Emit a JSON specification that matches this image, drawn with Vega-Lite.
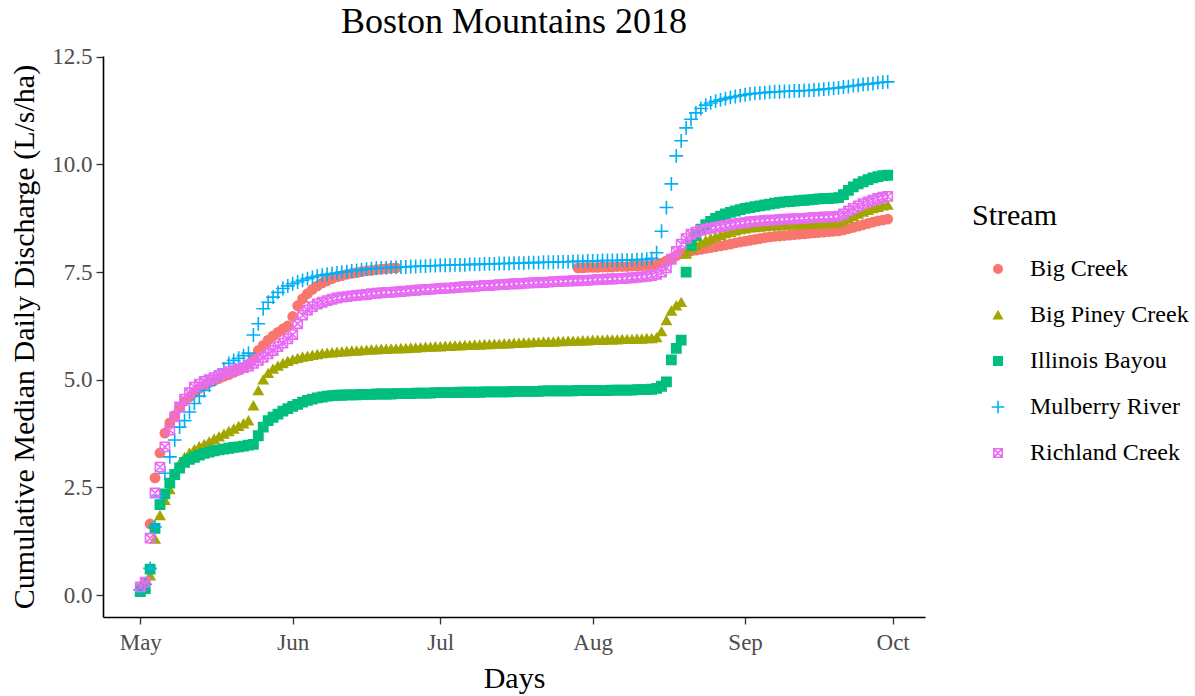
{
"$schema":"https://vega.github.io/schema/vega-lite/v6.json",
"width":822,"height":561,
"autosize":{"type":"none"},
"padding":{"left":103,"top":56,"right":270,"bottom":79},
"background":"white",
"config":{"view":{"stroke":null},"font":"Liberation Serif"},
"title":{"text":"Boston Mountains 2018","font":"Liberation Serif","fontSize":36,"fontWeight":"normal","color":"black","anchor":"middle","offset":5},
"datasets":{
"names":[{"key":"BC","Stream":"Big Creek"},{"key":"BP","Stream":"Big Piney Creek"},{"key":"IB","Stream":"Illinois Bayou"},{"key":"MR","Stream":"Mulberry River"},{"key":"RC","Stream":"Richland Creek"}],
"flows":[
{"Day":"2018-05-01","BC":0.15,"BP":0.1,"IB":0.08,"MR":0.12,"RC":0.19},
{"Day":"2018-05-02","BC":0.3,"BP":0.2,"IB":0.15,"MR":0.25,"RC":0.3},
{"Day":"2018-05-03","BC":1.65,"BP":0.45,"IB":0.6,"MR":0.62,"RC":1.32},
{"Day":"2018-05-04","BC":2.72,"BP":1.3,"IB":1.55,"MR":1.58,"RC":2.37},
{"Day":"2018-05-05","BC":3.3,"BP":1.85,"IB":2.1,"MR":2.3,"RC":2.97},
{"Day":"2018-05-06","BC":3.76,"BP":2.2,"IB":2.35,"MR":2.83,"RC":3.44},
{"Day":"2018-05-07","BC":4.0,"BP":2.45,"IB":2.6,"MR":3.21,"RC":3.83},
{"Day":"2018-05-08","BC":4.17,"BP":2.8,"IB":2.8,"MR":3.6,"RC":4.14},
{"Day":"2018-05-09","BC":4.35,"BP":3.05,"IB":2.95,"MR":3.9,"RC":4.37},
{"Day":"2018-05-10","BC":4.5,"BP":3.2,"IB":3.08,"MR":4.05,"RC":4.55},
{"Day":"2018-05-11","BC":4.6,"BP":3.3,"IB":3.15,"MR":4.25,"RC":4.7},
{"Day":"2018-05-12","BC":4.7,"BP":3.38,"IB":3.2,"MR":4.45,"RC":4.83},
{"Day":"2018-05-13","BC":4.8,"BP":3.45,"IB":3.25,"MR":4.62,"RC":4.9},
{"Day":"2018-05-14","BC":4.87,"BP":3.5,"IB":3.29,"MR":4.75,"RC":4.96},
{"Day":"2018-05-15","BC":4.93,"BP":3.56,"IB":3.32,"MR":4.88,"RC":5.0},
{"Day":"2018-05-16","BC":4.98,"BP":3.62,"IB":3.35,"MR":5.0,"RC":5.05},
{"Day":"2018-05-17","BC":5.03,"BP":3.68,"IB":3.37,"MR":5.1,"RC":5.1},
{"Day":"2018-05-18","BC":5.08,"BP":3.74,"IB":3.39,"MR":5.25,"RC":5.15},
{"Day":"2018-05-19","BC":5.12,"BP":3.8,"IB":3.41,"MR":5.38,"RC":5.19},
{"Day":"2018-05-20","BC":5.17,"BP":3.86,"IB":3.43,"MR":5.45,"RC":5.22},
{"Day":"2018-05-21","BC":5.22,"BP":3.92,"IB":3.44,"MR":5.5,"RC":5.25},
{"Day":"2018-05-22","BC":5.28,"BP":3.98,"IB":3.46,"MR":5.56,"RC":5.28},
{"Day":"2018-05-23","BC":5.36,"BP":4.05,"IB":3.48,"MR":5.62,"RC":5.32},
{"Day":"2018-05-24","BC":5.5,"BP":4.4,"IB":3.5,"MR":6.04,"RC":5.38},
{"Day":"2018-05-25","BC":5.68,"BP":4.75,"IB":3.7,"MR":6.3,"RC":5.45},
{"Day":"2018-05-26","BC":5.8,"BP":5.0,"IB":3.9,"MR":6.65,"RC":5.52},
{"Day":"2018-05-27","BC":5.92,"BP":5.15,"IB":4.05,"MR":6.8,"RC":5.6},
{"Day":"2018-05-28","BC":6.02,"BP":5.25,"IB":4.13,"MR":6.92,"RC":5.68},
{"Day":"2018-05-29","BC":6.1,"BP":5.32,"IB":4.2,"MR":7.03,"RC":5.77},
{"Day":"2018-05-30","BC":6.18,"BP":5.38,"IB":4.27,"MR":7.12,"RC":5.85},
{"Day":"2018-05-31","BC":6.25,"BP":5.43,"IB":4.33,"MR":7.18,"RC":5.95},
{"Day":"2018-06-01","BC":6.47,"BP":5.47,"IB":4.38,"MR":7.23,"RC":6.05},
{"Day":"2018-06-02","BC":6.72,"BP":5.5,"IB":4.43,"MR":7.27,"RC":6.3},
{"Day":"2018-06-03","BC":6.88,"BP":5.53,"IB":4.48,"MR":7.31,"RC":6.5},
{"Day":"2018-06-04","BC":7.0,"BP":5.55,"IB":4.52,"MR":7.35,"RC":6.62},
{"Day":"2018-06-05","BC":7.1,"BP":5.57,"IB":4.55,"MR":7.38,"RC":6.7},
{"Day":"2018-06-06","BC":7.18,"BP":5.59,"IB":4.58,"MR":7.41,"RC":6.76},
{"Day":"2018-06-07","BC":7.25,"BP":5.61,"IB":4.6,"MR":7.43,"RC":6.8},
{"Day":"2018-06-08","BC":7.3,"BP":5.62,"IB":4.62,"MR":7.45,"RC":6.84},
{"Day":"2018-06-09","BC":7.35,"BP":5.63,"IB":4.63,"MR":7.47,"RC":6.87},
{"Day":"2018-06-10","BC":7.39,"BP":5.64,"IB":4.64,"MR":7.48,"RC":6.9},
{"Day":"2018-06-11","BC":7.42,"BP":5.65,"IB":4.64,"MR":7.5,"RC":6.92},
{"Day":"2018-06-12","BC":7.45,"BP":5.66,"IB":4.65,"MR":7.51,"RC":6.93},
{"Day":"2018-06-13","BC":7.47,"BP":5.67,"IB":4.65,"MR":7.53,"RC":6.95},
{"Day":"2018-06-14","BC":7.49,"BP":5.67,"IB":4.65,"MR":7.54,"RC":6.96},
{"Day":"2018-06-15","BC":7.51,"BP":5.68,"IB":4.66,"MR":7.55,"RC":6.97},
{"Day":"2018-06-16","BC":7.53,"BP":5.69,"IB":4.66,"MR":7.57,"RC":6.98},
{"Day":"2018-06-17","BC":7.54,"BP":5.7,"IB":4.66,"MR":7.58,"RC":7.0},
{"Day":"2018-06-18","BC":7.56,"BP":5.7,"IB":4.67,"MR":7.59,"RC":7.01},
{"Day":"2018-06-19","BC":7.57,"BP":5.71,"IB":4.67,"MR":7.6,"RC":7.02},
{"Day":"2018-06-20","BC":7.58,"BP":5.71,"IB":4.67,"MR":7.6,"RC":7.03},
{"Day":"2018-06-21","BC":7.59,"BP":5.72,"IB":4.67,"MR":7.61,"RC":7.03},
{"Day":"2018-06-22","BC":7.6,"BP":5.72,"IB":4.68,"MR":7.61,"RC":7.04},
{"Day":"2018-06-23","BP":5.73,"IB":4.68,"MR":7.62,"RC":7.05},
{"Day":"2018-06-24","BP":5.73,"IB":4.68,"MR":7.62,"RC":7.06},
{"Day":"2018-06-25","BP":5.74,"IB":4.68,"MR":7.63,"RC":7.07},
{"Day":"2018-06-26","BP":5.74,"IB":4.69,"MR":7.63,"RC":7.08},
{"Day":"2018-06-27","BP":5.75,"IB":4.69,"MR":7.64,"RC":7.09},
{"Day":"2018-06-28","BP":5.76,"IB":4.69,"MR":7.64,"RC":7.1},
{"Day":"2018-06-29","BP":5.76,"IB":4.69,"MR":7.65,"RC":7.1},
{"Day":"2018-06-30","BP":5.77,"IB":4.7,"MR":7.65,"RC":7.11},
{"Day":"2018-07-01","BP":5.77,"IB":4.7,"MR":7.66,"RC":7.12},
{"Day":"2018-07-02","BP":5.78,"IB":4.7,"MR":7.66,"RC":7.13},
{"Day":"2018-07-03","BP":5.78,"IB":4.7,"MR":7.66,"RC":7.13},
{"Day":"2018-07-04","BP":5.79,"IB":4.7,"MR":7.67,"RC":7.14},
{"Day":"2018-07-05","BP":5.79,"IB":4.71,"MR":7.67,"RC":7.15},
{"Day":"2018-07-06","BP":5.8,"IB":4.71,"MR":7.67,"RC":7.16},
{"Day":"2018-07-07","BP":5.8,"IB":4.71,"MR":7.68,"RC":7.16},
{"Day":"2018-07-08","BP":5.81,"IB":4.71,"MR":7.68,"RC":7.17},
{"Day":"2018-07-09","BP":5.81,"IB":4.71,"MR":7.68,"RC":7.18},
{"Day":"2018-07-10","BP":5.82,"IB":4.72,"MR":7.69,"RC":7.19},
{"Day":"2018-07-11","BP":5.82,"IB":4.72,"MR":7.69,"RC":7.19},
{"Day":"2018-07-12","BP":5.83,"IB":4.72,"MR":7.69,"RC":7.2},
{"Day":"2018-07-13","BP":5.83,"IB":4.72,"MR":7.7,"RC":7.21},
{"Day":"2018-07-14","BP":5.84,"IB":4.72,"MR":7.7,"RC":7.21},
{"Day":"2018-07-15","BP":5.84,"IB":4.72,"MR":7.7,"RC":7.22},
{"Day":"2018-07-16","BP":5.85,"IB":4.73,"MR":7.71,"RC":7.23},
{"Day":"2018-07-17","BP":5.85,"IB":4.73,"MR":7.71,"RC":7.23},
{"Day":"2018-07-18","BP":5.86,"IB":4.73,"MR":7.71,"RC":7.24},
{"Day":"2018-07-19","BP":5.86,"IB":4.73,"MR":7.72,"RC":7.25},
{"Day":"2018-07-20","BP":5.87,"IB":4.73,"MR":7.72,"RC":7.25},
{"Day":"2018-07-21","BP":5.87,"IB":4.73,"MR":7.72,"RC":7.26},
{"Day":"2018-07-22","BP":5.88,"IB":4.74,"MR":7.73,"RC":7.26},
{"Day":"2018-07-23","BP":5.88,"IB":4.74,"MR":7.73,"RC":7.27},
{"Day":"2018-07-24","BP":5.88,"IB":4.74,"MR":7.73,"RC":7.28},
{"Day":"2018-07-25","BP":5.89,"IB":4.74,"MR":7.74,"RC":7.28},
{"Day":"2018-07-26","BP":5.89,"IB":4.74,"MR":7.74,"RC":7.29},
{"Day":"2018-07-27","BP":5.9,"IB":4.74,"MR":7.74,"RC":7.29},
{"Day":"2018-07-28","BP":5.9,"IB":4.74,"MR":7.75,"RC":7.3},
{"Day":"2018-07-29","BC":7.6,"BP":5.9,"IB":4.75,"MR":7.75,"RC":7.3},
{"Day":"2018-07-30","BC":7.6,"BP":5.91,"IB":4.75,"MR":7.75,"RC":7.31},
{"Day":"2018-07-31","BC":7.61,"BP":5.91,"IB":4.75,"MR":7.76,"RC":7.31},
{"Day":"2018-08-01","BC":7.61,"BP":5.92,"IB":4.75,"MR":7.76,"RC":7.32},
{"Day":"2018-08-02","BC":7.61,"BP":5.92,"IB":4.75,"MR":7.76,"RC":7.33},
{"Day":"2018-08-03","BC":7.62,"BP":5.92,"IB":4.75,"MR":7.77,"RC":7.33},
{"Day":"2018-08-04","BC":7.62,"BP":5.93,"IB":4.75,"MR":7.77,"RC":7.34},
{"Day":"2018-08-05","BC":7.62,"BP":5.93,"IB":4.76,"MR":7.77,"RC":7.34},
{"Day":"2018-08-06","BC":7.63,"BP":5.93,"IB":4.76,"MR":7.77,"RC":7.35},
{"Day":"2018-08-07","BC":7.63,"BP":5.94,"IB":4.76,"MR":7.78,"RC":7.35},
{"Day":"2018-08-08","BC":7.63,"BP":5.94,"IB":4.76,"MR":7.78,"RC":7.36},
{"Day":"2018-08-09","BC":7.64,"BP":5.94,"IB":4.76,"MR":7.78,"RC":7.37},
{"Day":"2018-08-10","BC":7.64,"BP":5.95,"IB":4.77,"MR":7.79,"RC":7.38},
{"Day":"2018-08-11","BC":7.65,"BP":5.95,"IB":4.77,"MR":7.79,"RC":7.39},
{"Day":"2018-08-12","BC":7.65,"BP":5.96,"IB":4.77,"MR":7.8,"RC":7.4},
{"Day":"2018-08-13","BC":7.66,"BP":5.96,"IB":4.78,"MR":7.82,"RC":7.42},
{"Day":"2018-08-14","BC":7.68,"BP":5.98,"IB":4.8,"MR":7.95,"RC":7.45},
{"Day":"2018-08-15","BC":7.71,"BP":6.12,"IB":4.85,"MR":8.45,"RC":7.5},
{"Day":"2018-08-16","BC":7.76,"BP":6.38,"IB":4.95,"MR":9.0,"RC":7.6},
{"Day":"2018-08-17","BC":7.82,"BP":6.6,"IB":5.46,"MR":9.55,"RC":7.8},
{"Day":"2018-08-18","BC":7.88,"BP":6.72,"IB":5.73,"MR":10.2,"RC":7.98},
{"Day":"2018-08-19","BC":7.93,"BP":6.8,"IB":5.92,"MR":10.55,"RC":8.15},
{"Day":"2018-08-20","BC":7.96,"BP":7.92,"IB":7.5,"MR":10.85,"RC":8.28},
{"Day":"2018-08-21","BC":7.99,"BP":8.05,"IB":8.12,"MR":11.05,"RC":8.38},
{"Day":"2018-08-22","BC":8.01,"BP":8.12,"IB":8.35,"MR":11.2,"RC":8.43},
{"Day":"2018-08-23","BC":8.03,"BP":8.18,"IB":8.5,"MR":11.3,"RC":8.47},
{"Day":"2018-08-24","BC":8.05,"BP":8.23,"IB":8.6,"MR":11.38,"RC":8.5},
{"Day":"2018-08-25","BC":8.07,"BP":8.28,"IB":8.68,"MR":11.43,"RC":8.52},
{"Day":"2018-08-26","BC":8.09,"BP":8.32,"IB":8.75,"MR":11.47,"RC":8.54},
{"Day":"2018-08-27","BC":8.11,"BP":8.36,"IB":8.8,"MR":11.5,"RC":8.56},
{"Day":"2018-08-28","BC":8.13,"BP":8.4,"IB":8.85,"MR":11.53,"RC":8.58},
{"Day":"2018-08-29","BC":8.15,"BP":8.43,"IB":8.89,"MR":11.56,"RC":8.6},
{"Day":"2018-08-30","BC":8.18,"BP":8.46,"IB":8.92,"MR":11.58,"RC":8.62},
{"Day":"2018-08-31","BC":8.2,"BP":8.49,"IB":8.95,"MR":11.6,"RC":8.64},
{"Day":"2018-09-01","BC":8.22,"BP":8.51,"IB":8.98,"MR":11.62,"RC":8.65},
{"Day":"2018-09-02","BC":8.24,"BP":8.53,"IB":9.0,"MR":11.64,"RC":8.67},
{"Day":"2018-09-03","BC":8.26,"BP":8.54,"IB":9.02,"MR":11.65,"RC":8.68},
{"Day":"2018-09-04","BC":8.28,"BP":8.55,"IB":9.04,"MR":11.66,"RC":8.69},
{"Day":"2018-09-05","BC":8.3,"BP":8.56,"IB":9.06,"MR":11.67,"RC":8.7},
{"Day":"2018-09-06","BC":8.32,"BP":8.57,"IB":9.08,"MR":11.68,"RC":8.71},
{"Day":"2018-09-07","BC":8.33,"BP":8.58,"IB":9.1,"MR":11.69,"RC":8.71},
{"Day":"2018-09-08","BC":8.34,"BP":8.58,"IB":9.12,"MR":11.69,"RC":8.72},
{"Day":"2018-09-09","BC":8.35,"BP":8.59,"IB":9.13,"MR":11.7,"RC":8.73},
{"Day":"2018-09-10","BC":8.36,"BP":8.6,"IB":9.14,"MR":11.7,"RC":8.73},
{"Day":"2018-09-11","BC":8.37,"BP":8.6,"IB":9.15,"MR":11.71,"RC":8.74},
{"Day":"2018-09-12","BC":8.38,"BP":8.61,"IB":9.16,"MR":11.71,"RC":8.75},
{"Day":"2018-09-13","BC":8.39,"BP":8.61,"IB":9.17,"MR":11.72,"RC":8.75},
{"Day":"2018-09-14","BC":8.4,"BP":8.62,"IB":9.18,"MR":11.72,"RC":8.76},
{"Day":"2018-09-15","BC":8.41,"BP":8.62,"IB":9.19,"MR":11.73,"RC":8.77},
{"Day":"2018-09-16","BC":8.42,"BP":8.63,"IB":9.2,"MR":11.74,"RC":8.77},
{"Day":"2018-09-17","BC":8.43,"BP":8.63,"IB":9.21,"MR":11.75,"RC":8.78},
{"Day":"2018-09-18","BC":8.44,"BP":8.64,"IB":9.21,"MR":11.76,"RC":8.78},
{"Day":"2018-09-19","BC":8.45,"BP":8.65,"IB":9.22,"MR":11.77,"RC":8.79},
{"Day":"2018-09-20","BC":8.46,"BP":8.66,"IB":9.23,"MR":11.78,"RC":8.8},
{"Day":"2018-09-21","BC":8.48,"BP":8.7,"IB":9.3,"MR":11.8,"RC":8.85},
{"Day":"2018-09-22","BC":8.51,"BP":8.75,"IB":9.4,"MR":11.81,"RC":8.92},
{"Day":"2018-09-23","BC":8.54,"BP":8.8,"IB":9.48,"MR":11.83,"RC":8.98},
{"Day":"2018-09-24","BC":8.57,"BP":8.85,"IB":9.55,"MR":11.84,"RC":9.04},
{"Day":"2018-09-25","BC":8.6,"BP":8.9,"IB":9.6,"MR":11.86,"RC":9.09},
{"Day":"2018-09-26","BC":8.63,"BP":8.94,"IB":9.65,"MR":11.87,"RC":9.13},
{"Day":"2018-09-27","BC":8.66,"BP":8.98,"IB":9.69,"MR":11.88,"RC":9.17},
{"Day":"2018-09-28","BC":8.69,"BP":9.01,"IB":9.72,"MR":11.9,"RC":9.21},
{"Day":"2018-09-29","BC":8.71,"BP":9.04,"IB":9.74,"MR":11.91,"RC":9.24},
{"Day":"2018-09-30","BC":8.73,"BP":9.06,"IB":9.75,"MR":11.92,"RC":9.26}
]},
"data":{"name":"flows"},
"transform":[
{"fold":["BC","BP","IB","MR","RC"],"as":["key","Value"]},
{"filter":"isValid(datum.Value)"},
{"lookup":"key","from":{"data":{"name":"names"},"key":"key","fields":["Stream"]}}
],
"mark":{"type":"point","opacity":1,"strokeWidth":1.6,"size":85},
"encoding":{
"x":{"field":"Day","type":"temporal","title":"Days",
 "scale":{"type":"utc","nice":false,"domain":[{"year":2018,"month":4,"date":23,"hours":10,"utc":true},{"year":2018,"month":10,"date":7,"hours":14,"utc":true}]},
 "axis":{"values":[{"year":2018,"month":5,"date":1,"utc":true},{"year":2018,"month":6,"date":1,"utc":true},{"year":2018,"month":7,"date":1,"utc":true},{"year":2018,"month":8,"date":1,"utc":true},{"year":2018,"month":9,"date":1,"utc":true},{"year":2018,"month":10,"date":1,"utc":true}],
  "labelExpr":"utcFormat(datum.value, '%b')","grid":false,"domainColor":"black","domainWidth":1.6,"tickColor":"#333333","tickWidth":1.3,"tickSize":7,
  "labelFont":"Liberation Serif","labelFontSize":23,"labelColor":"#4D4D4D","labelPadding":7,
  "titleFont":"Liberation Serif","titleFontSize":30,"titleFontWeight":"normal","titleColor":"black","titlePadding":9}},
"y":{"field":"Value","type":"quantitative","title":"Cumulative Median Daily Discharge (L/s/ha)",
 "scale":{"domain":[-0.51,12.52],"nice":false,"zero":false},
 "axis":{"values":[0,2.5,5,7.5,10,12.5],"format":".1f","grid":false,"domainColor":"black","domainWidth":1.6,"tickColor":"#333333","tickWidth":1.3,"tickSize":7,
  "labelFont":"Liberation Serif","labelFontSize":23,"labelColor":"#4D4D4D","labelPadding":4,
  "titleFont":"Liberation Serif","titleFontSize":30,"titleFontWeight":"normal","titleColor":"black","titlePadding":12}},
"stroke":{"field":"Stream","type":"nominal",
 "scale":{"domain":["Big Creek","Big Piney Creek","Illinois Bayou","Mulberry River","Richland Creek"],"range":["#F8766D","#A3A500","#00BF7D","#00B0F6","#E76BF3"]},
 "legend":{"title":"Stream","orient":"none","legendX":869,"legendY":145,"titleFont":"Liberation Serif","titleFontSize":30,"titleFontWeight":"normal","titleColor":"black","titlePadding":26,"labelFont":"Liberation Serif","labelFontSize":24,"labelColor":"black","rowPadding":22,"labelOffset":20,"symbolOffset":14,"symbolSize":70,"symbolStrokeWidth":1.6,"symbolOpacity":1}},
"fill":{"field":"Stream","type":"nominal",
 "scale":{"domain":["Big Creek","Big Piney Creek","Illinois Bayou","Mulberry River","Richland Creek"],"range":["#F8766D","#A3A500","#00BF7D","transparent","transparent"]},
 "legend":{"title":"Stream","orient":"none","legendX":869,"legendY":145,"titleFont":"Liberation Serif","titleFontSize":30,"titleFontWeight":"normal","titleColor":"black","titlePadding":26,"labelFont":"Liberation Serif","labelFontSize":24,"labelColor":"black","rowPadding":22,"labelOffset":20,"symbolOffset":14,"symbolSize":70,"symbolStrokeWidth":1.6,"symbolOpacity":1}},
"shape":{"field":"Stream","type":"nominal",
 "scale":{"domain":["Big Creek","Big Piney Creek","Illinois Bayou","Mulberry River","Richland Creek"],"range":["circle","triangle-up","square","M-1.5,0H1.5M0,-1.5V1.5","M-1,-1H1V1H-1ZM-1,-1L1,1M1,-1L-1,1"]},
 "legend":{"title":"Stream","orient":"none","legendX":869,"legendY":145,"titleFont":"Liberation Serif","titleFontSize":30,"titleFontWeight":"normal","titleColor":"black","titlePadding":26,"labelFont":"Liberation Serif","labelFontSize":24,"labelColor":"black","rowPadding":22,"labelOffset":20,"symbolOffset":14,"symbolSize":70,"symbolStrokeWidth":1.6,"symbolOpacity":1}},
"order":{"field":"Stream","type":"ordinal"}
}
}
